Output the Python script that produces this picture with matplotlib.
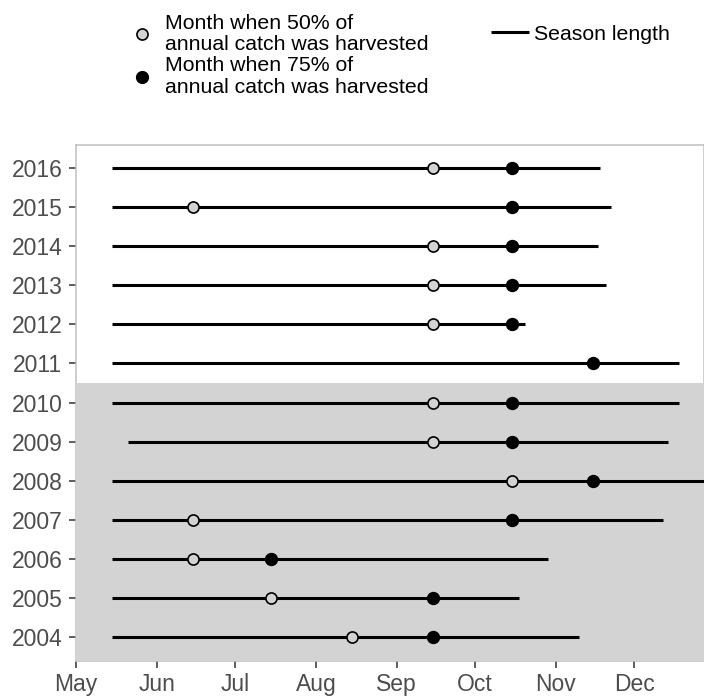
import matplotlib.pyplot as plt
import matplotlib.dates as mdates
from matplotlib.lines import Line2D
import numpy as np
import pandas as pd

plt.rcParams['font.family'] = ['Liberation Sans', 'DejaVu Sans']

# data (month-day, dummy year)
years = [2004, 2005, 2006, 2007, 2008, 2009, 2010, 2011, 2012, 2013, 2014, 2015, 2016]
season_start = ['05-15', '05-15', '05-15', '05-15', '05-15', '05-21', '05-15',
                '05-15', '05-15', '05-15', '05-15', '05-15', '05-15']
season_end = ['11-10', '10-18', '10-29', '12-12', '12-31', '12-14', '12-18',
              '12-18', '10-20', '11-20', '11-17', '11-22', '11-18']
month_50 = ['08-15', '07-15', '06-15', '06-15', '10-15', '09-15', '09-15',
            None, '09-15', '09-15', '09-15', '06-15', '09-15']
month_75 = ['09-15', '09-15', '07-15', '10-15', '11-15', '10-15', '10-15',
            '11-15', '10-15', '10-15', '10-15', '10-15', '10-15']


def to_num(days):
    return np.array([mdates.date2num(pd.Timestamp('2001-' + d)) if d else np.nan
                     for d in days])


start = to_num(season_start)
end = to_num(season_end)
x50 = to_num(month_50)
x75 = to_num(month_75)

fig = plt.figure(figsize=(7.04, 6.96), dpi=100)
ax = fig.add_axes([0.1075, 0.0507, 0.8925, 0.7414])

# shaded years
ax.axhspan(2003, 2010.5, color='#d3d3d3', lw=0, zorder=2.6)

ax.hlines(years, start, end, colors='black', lw=2.2, capstyle='butt', zorder=3)
ax.plot(x50, years, 'o', ls='none', ms=8, mfc='#d3d3d3', mec='black', mew=1.2, zorder=4)
ax.plot(x75, years, 'o', ls='none', ms=8.5, mfc='black', mec='black', mew=1.1, zorder=4)

x0 = mdates.date2num(pd.Timestamp('2001-05-01'))
ax.set_xlim(x0, x0 + 240.7)
ax.set_ylim(2003.385, 2016.605)
ax.xaxis.set_major_locator(mdates.MonthLocator())
ax.xaxis.set_major_formatter(mdates.DateFormatter('%b'))
ax.set_yticks(years)

for s in ax.spines.values():
    s.set_color('#bebebe')
    s.set_linewidth(1.1)
ax.tick_params(color='#333333', labelcolor='#4d4d4d', labelsize=16.5,
               length=5, width=1.1)
ax.tick_params(axis='y', pad=4.5)
ax.tick_params(axis='x', pad=3.5)

# legends
h50 = Line2D([], [], ls='none', marker='o', ms=8, mfc='#d3d3d3', mec='black', mew=1.2)
h75 = Line2D([], [], ls='none', marker='o', ms=8.5, mfc='black', mec='black')
hline = Line2D([], [], color='black', lw=2.2, solid_capstyle='butt')

leg1 = fig.legend(handles=[h50, h75],
                  labels=['Month when 50% of\nannual catch was harvested',
                          'Month when 75% of\nannual catch was harvested'],
                  loc='upper left', bbox_to_anchor=(131.4 / 704, 1 - 14 / 696),
                  frameon=False, fontsize=15.3, handlelength=1.0, handletextpad=0.6,
                  labelspacing=0.1, borderpad=0, borderaxespad=0, numpoints=1)
for t in leg1.get_texts():
    t.set_linespacing(1.15)
fig.legend(handles=[hline], labels=['Season length'],
           loc='center left', bbox_to_anchor=(491 / 704, 1 - 34 / 696),
           frameon=False, fontsize=15.3, handlelength=1.79, handletextpad=0.235,
           borderpad=0, borderaxespad=0)

fig.savefig('out.png', dpi=100)
